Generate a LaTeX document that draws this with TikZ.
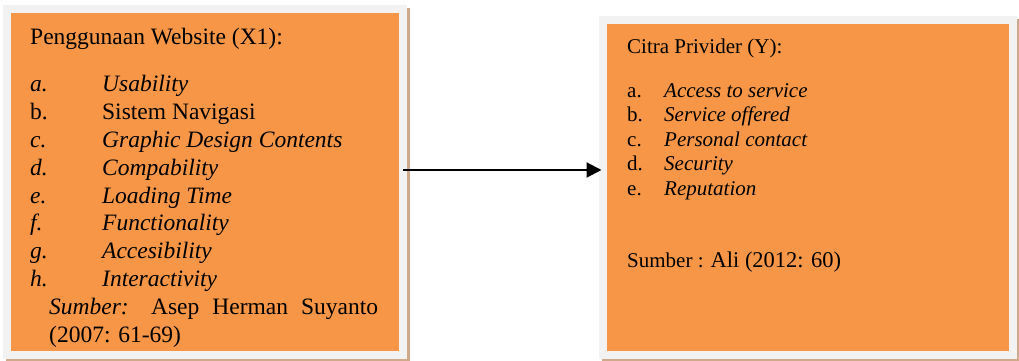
\documentclass[tikz,border=0pt]{standalone}
\usepackage{fontspec}
\setmainfont{Liberation Serif}
\usetikzlibrary{arrows.meta,backgrounds}

\definecolor{boxorange}{HTML}{F79646}
\definecolor{framegray}{HTML}{F2F2F2}
\definecolor{shadowtan}{HTML}{CFA98A}

\newcommand{\itemx}[2]{\makebox[72pt][l]{#1}#2}
\newcommand{\itemy}[2]{\makebox[37pt][l]{#1}#2}

\begin{document}
\begin{tikzpicture}[x=1pt, y=-1pt,
    varbox/.style={rectangle, fill=boxorange, draw=framegray, line width=8pt,
      outer sep=0pt, inner sep=0pt, anchor=north west},
    varlist/.style={anchor=base west, inner sep=0pt, align=left}]
  \useasboundingbox (0,0) rectangle (1019,361);

  \node[varbox, minimum width=396pt, minimum height=346pt] (X1) at (7,9) {};
  \node[varbox, minimum width=410pt, minimum height=335pt] (Y) at (603,20) {};

  \begin{scope}[on background layer]
    \fill[shadowtan] ([shift={(-1pt,1pt)}]X1.north west) rectangle ([shift={(7pt,-7pt)}]X1.south east);
    \fill[shadowtan] ([shift={(-1pt,1pt)}]Y.north west) rectangle ([shift={(7pt,-7pt)}]Y.south east);
  \end{scope}

  % base anchor sits on the last line
  \node[varlist, font=\fontsize{23.5}{27.8}\selectfont] (X1list) at (30,342) {%
    Penggunaan Website (X1):\\[19.5pt]
    \itemx{\textit{a.}}{\textit{Usability}}\\
    \itemx{b.}{Sistem Navigasi}\\
    \itemx{\textit{c.}}{\textit{Graphic Design Contents}}\\
    \itemx{\textit{d.}}{\textit{Compability}}\\
    \itemx{\textit{e.}}{\textit{Loading Time}}\\
    \itemx{\textit{f.}}{\textit{Functionality}}\\
    \itemx{\textit{g.}}{\textit{Accesibility}}\\
    \itemx{\textit{h.}}{\textit{Interactivity}}\\
    \hspace*{19pt}\makebox[329pt][s]{\textit{Sumber:} Asep Herman Suyanto}\\
    \hspace*{19pt}(2007: 61-69)};

  \node[varlist, font=\fontsize{21}{24.5}\selectfont] (Ylist) at (627,267) {%
    Citra Privider (Y):\\[19.5pt]
    \itemy{a.}{\textit{Access to service}}\\
    \itemy{b.}{\textit{Service offered}}\\
    \itemy{c.}{\textit{Personal contact}}\\
    \itemy{d.}{\textit{Security}}\\
    \itemy{e.}{\textit{Reputation}}\\[47.5pt]
    Sumber : {\fontsize{22.5}{24.5}\selectfont Ali (2012: 60)}};

  \draw[line width=2pt, -{Triangle[length=15pt,width=15pt]}, shorten >=1.5pt]
    ([yshift=12pt]X1.east) -- ([yshift=12pt]X1.east -| Y.west);
\end{tikzpicture}
\end{document}
